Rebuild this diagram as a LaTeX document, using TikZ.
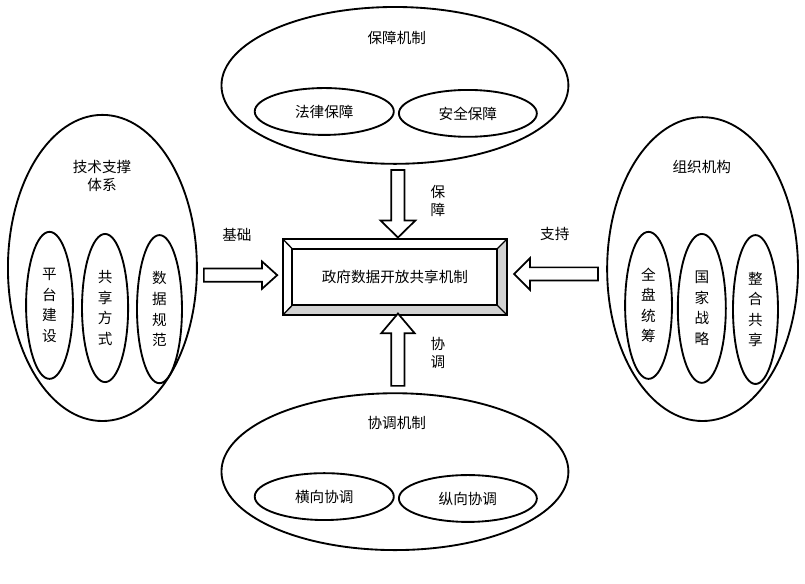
\documentclass[tikz,border=0pt]{standalone}
\usepackage{fontspec}
\newfontfamily\cjk{Noto Sans CJK SC}
\usetikzlibrary{shapes.geometric,calc}

% block arrow sizes (shaft half width, head half width, head length)
\tikzset{
  bsw/.store in=\bsw, bsw=0.175cm,
  bhw/.store in=\bhw, bhw=0.44cm,
  bhl/.store in=\bhl, bhl=0.45cm,
  bigell/.style={ellipse,draw,line width=1.4pt,inner sep=0pt},
  smallell/.style={ellipse,draw,line width=1.4pt,inner sep=0pt,align=center,
    font=\cjk\fontsize{11}{15.5}\selectfont},
  lbl/.style={align=center,font=\cjk\fontsize{11}{13.5}\selectfont},
  blockarrow/.style={draw,line width=1.3pt,fill=white,to path={
    ($(\tikztostart)!\bsw!90:(\tikztotarget)$)
    -- ($(\tikztotarget)!\bhl!(\tikztostart)!\bsw!90:(\tikztotarget)$)
    -- ($(\tikztotarget)!\bhl!(\tikztostart)!\bhw!90:(\tikztotarget)$)
    -- (\tikztotarget)
    -- ($(\tikztotarget)!\bhl!(\tikztostart)!\bhw!-90:(\tikztotarget)$)
    -- ($(\tikztotarget)!\bhl!(\tikztostart)!\bsw!-90:(\tikztotarget)$)
    -- ($(\tikztostart)!\bsw!-90:(\tikztotarget)$) -- cycle}}
}

\begin{document}
\begin{tikzpicture}

    \useasboundingbox (-10.45,-8.12) rectangle (10.85,7.33);

    %%%%%%%%%%%%%%%%%%%%%%%%%%%%%%%%%%%%%%%%%%%%%%%%%%%%%%

    % guarantee mechanism (top)
    \node[bigell,minimum width=9.18cm,minimum height=4.15cm] (guard) at (0,5.07) {};
    \node[lbl] (guardt) at (0.05,6.32) {保障机制};
    \node[smallell,minimum width=3.68cm,minimum height=1.24cm] (law) at (-1.87,4.38) {法律保障};
    \node[smallell,minimum width=3.65cm,minimum height=1.24cm] (safe) at (1.93,4.33) {安全保障};

    %%%%%%%%%%%%%%%%%%%%%%%%%%%%%%%%%%%%%%%%%%%%%%%%%%%%%%

    % coordination mechanism (bottom)
    \node[bigell,minimum width=9.18cm,minimum height=4.15cm] (coord) at (0,-5.15) {};
    \node[lbl] (coordt) at (0.05,-3.86) {协调机制};
    \node[smallell,minimum width=3.68cm,minimum height=1.24cm] (horiz) at (-1.87,-5.81) {横向协调};
    \node[smallell,minimum width=3.65cm,minimum height=1.24cm] (vert) at (1.93,-5.86) {纵向协调};

    %%%%%%%%%%%%%%%%%%%%%%%%%%%%%%%%%%%%%%%%%%%%%%%%%%%%%%

    % technical support (left)
    \node[bigell,minimum width=5.00cm,minimum height=8.10cm] (tech) at (-7.74,0.24) {};
    \node[lbl] (techt) at (-7.75,2.67) {技术支撑\\体系};
    \node[smallell,minimum width=1.24cm,minimum height=3.89cm] (plat) at (-9.14,-0.75) {平\\台\\建\\设};
    \node[smallell,minimum width=1.22cm,minimum height=3.92cm] (share) at (-7.67,-0.82) {共\\享\\方\\式};
    \node[smallell,minimum width=1.19cm,minimum height=3.92cm] (norm) at (-6.23,-0.85) {数\\据\\规\\范};

    %%%%%%%%%%%%%%%%%%%%%%%%%%%%%%%%%%%%%%%%%%%%%%%%%%%%%%

    % organisation (right)
    \node[bigell,minimum width=5.05cm,minimum height=8.04cm] (org) at (8.14,0.21) {};
    \node[lbl] (orgt) at (8.12,2.91) {组织机构};
    \node[smallell,minimum width=1.24cm,minimum height=3.89cm] (whole) at (6.71,-0.75) {全\\盘\\统\\筹};
    \node[smallell,minimum width=1.27cm,minimum height=3.94cm] (nation) at (8.12,-0.83) {国\\家\\战\\略};
    \node[smallell,minimum width=1.19cm,minimum height=3.94cm] (merge) at (9.54,-0.86) {整\\合\\共\\享};

    %%%%%%%%%%%%%%%%%%%%%%%%%%%%%%%%%%%%%%%%%%%%%%%%%%%%%%

    % bevelled core box
    \node[font=\cjk\fontsize{11}{13}\selectfont,minimum width=5.93cm,minimum height=2.01cm,outer sep=0pt] (core) at (0,0) {政府数据开放共享机制};
    \coordinate (inw) at ([shift={(0.25,-0.26)}]core.north west);
    \coordinate (ine) at ([shift={(-0.26,-0.26)}]core.north east);
    \coordinate (ise) at ([shift={(-0.26,0.26)}]core.south east);
    \coordinate (isw) at ([shift={(0.25,0.26)}]core.south west);
    \fill[gray!35] (core.north east) -- (core.south east) -- (core.south west) -- (isw) -- (ise) -- (ine) -- cycle;
    \draw[line width=1pt] (core.north west) -- (inw) (core.north east) -- (ine) (core.south east) -- (ise) (core.south west) -- (isw);
    \draw[line width=1.4pt] (inw) rectangle (ise);
    \draw[line width=1.9pt] (core.north west) rectangle (core.south east);

    %%%%%%%%%%%%%%%%%%%%%%%%%%%%%%%%%%%%%%%%%%%%%%%%%%%%%%

    % arrows into the core
    \coordinate (ltail) at ([xshift=0.16cm,yshift=-0.19cm]tech.east);
    \coordinate (lhead) at ([xshift=-0.15cm,yshift=0.05cm]core.west);
    \coordinate (rtail) at ([xshift=-0.22cm,yshift=-0.13cm]org.west);
    \coordinate (rhead) at ([xshift=0.19cm,yshift=0.08cm]core.east);
    \draw[blockarrow,bhw=0.46cm] ([xshift=0.08cm,yshift=-0.14cm]guard.south) to ([xshift=0.08cm,yshift=0.04cm]core.north);
    \draw[blockarrow,bhw=0.44cm,bhl=0.52cm] ([xshift=0.08cm,yshift=0.17cm]coord.north) to ([xshift=0.08cm,yshift=0.04cm]core.south);
    \draw[blockarrow,bhw=0.36cm,bhl=0.40cm] (ltail) to (lhead);
    \draw[blockarrow,bhw=0.42cm,bhl=0.42cm] (rtail) to (rhead);

    % arrow labels
    \node[lbl] (lguard) at (1.14,2.01) {保\\障};
    \node[lbl] (lcoord) at (1.14,-2.02) {协\\调};
    \node[lbl] (lbase) at (-4.18,1.11) {基础};
    \node[lbl] (lsup) at (4.23,1.14) {支持};

\end{tikzpicture}
\end{document}
